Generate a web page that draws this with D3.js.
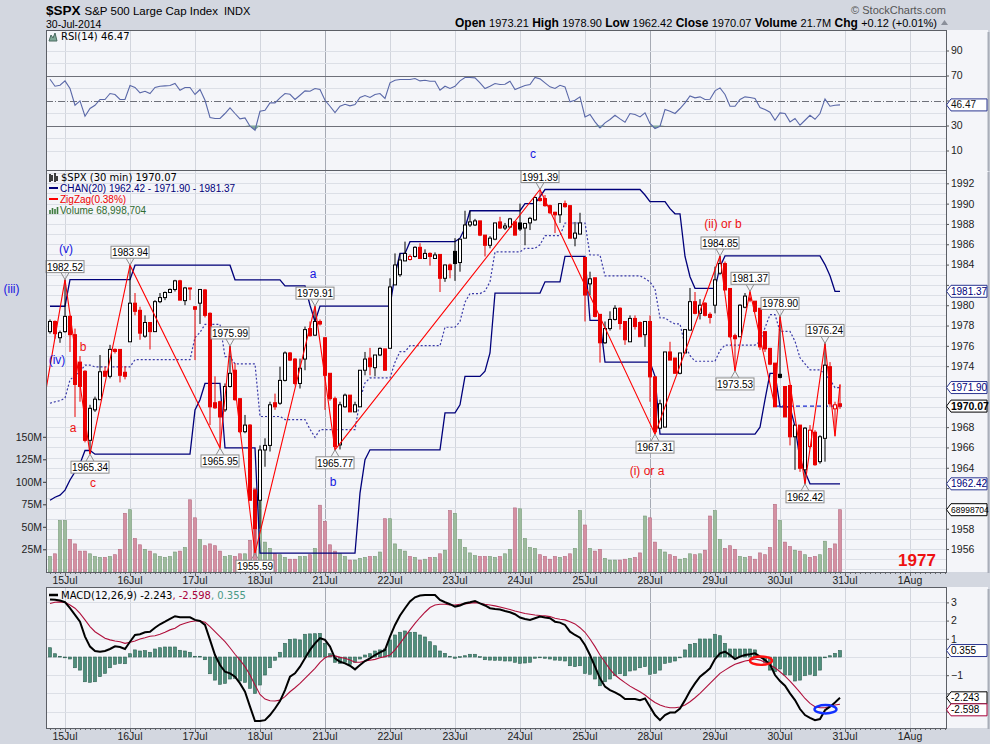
<!DOCTYPE html>
<html>
<head>
<meta charset="utf-8">
<title>$SPX 30 min</title>
<script src="https://cdn.jsdelivr.net/npm/d3@7"></script>
<style>
  body { margin: 0; background: #d3d7e0; }
  svg text { font-family: "Liberation Sans", Arial, sans-serif; }
  svg text.vd { font-family: "DejaVu Sans", Verdana, sans-serif; }
</style>
</head>
<body>
<svg id="chart" width="990" height="744"></svg>
<script>
// ---- data ----
var dayLabels = ["15Jul","16Jul","17Jul","18Jul","21Jul","22Jul","23Jul","24Jul","25Jul","28Jul","29Jul","30Jul","31Jul","1Aug"];
var dayBars = [3,16,29,42,55,68,81,94,107,120,133,146,159,172];
var mondays = ["21Jul","28Jul"];

var priceTicks = [1956,1958,1960,1962,1964,1966,1968,1970,1972,1974,1976,1978,1980,1982,1984,1986,1988,1990,1992];
var volTicks = [25,50,75,100,125,150];
var rsiTicks = [10,30,50,70,90];
var macdTicks = [-3,-2,-1,0,1,2,3];

var headerStats = [["Open","1973.21"],["High","1978.90"],["Low","1962.42"],["Close","1970.07"],["Volume","21.7M"],["Chg","+0.12 (+0.01%)"]];

// 30 min bars: open, high, low, close
var ohlc = [
[1977.4,1978.6,1977.2,1978.4],[1978.4,1978.5,1976.7,1977.2],[1976.8,1977.5,1976.3,1977.3],[1977.4,1982.52,1977.3,1978.9],
[1978.9,1979.0,1975.4,1977.1],[1977.1,1977.7,1969.0,1972.2],[1974.4,1975.0,1970.5,1972.0],[1973.5,1973.6,1966.5,1966.7],
[1966.7,1970.2,1965.34,1969.85],[1969.7,1971.0,1969.5,1970.75],[1970.7,1975.1,1970.7,1973.45],[1973.5,1973.95,1972.95,1973.0],
[1973.0,1976.1,1972.8,1975.65],[1975.65,1975.75,1975.25,1975.45],[1975.65,1975.65,1972.4,1973.1],[1973.4,1974.0,1972.7,1973.0],
[1976.4,1983.94,1976.4,1980.2],[1980.2,1981.2,1979.0,1979.4],[1979.5,1979.85,1976.6,1977.25],[1976.95,1979.0,1976.8,1978.3],
[1978.3,1978.3,1975.65,1977.4],[1977.4,1980.5,1977.4,1980.35],[1980.35,1981.2,1980.2,1980.75],[1980.75,1981.35,1980.5,1981.25],
[1981.25,1981.65,1981.2,1981.55],[1981.55,1982.5,1981.35,1982.4],[1982.4,1982.5,1980.5,1980.5],[1980.45,1981.8,1980.0,1981.7],
[1981.7,1981.7,1980.5,1981.6],[1979.85,1979.9,1974.6,1979.6],[1980.2,1981.6,1978.15,1981.55],[1981.5,1981.6,1978.8,1979.0],
[1979.2,1979.3,1968.2,1970.0],[1970.4,1973.0,1969.8,1969.9],[1970.5,1970.6,1965.95,1969.0],[1969.7,1972.3,1969.5,1972.0],
[1972.0,1975.99,1971.9,1973.3],[1973.6,1974.3,1970.6,1970.7],[1970.8,1970.8,1967.4,1967.55],[1967.55,1969.2,1967.4,1968.2],
[1968.2,1968.3,1960.8,1960.8],[1961.8,1961.9,1955.59,1958.0],[1960.8,1966.2,1958.0,1965.75],[1965.75,1966.9,1964.1,1966.2],
[1966.2,1970.5,1965.6,1970.2],[1970.4,1971.3,1969.7,1970.0],[1970.35,1973.95,1970.2,1972.6],[1972.6,1975.45,1972.5,1975.3],
[1975.3,1975.4,1974.5,1974.6],[1974.7,1974.8,1972.1,1972.3],[1972.3,1974.75,1971.8,1973.8],[1974.7,1977.9,1973.6,1977.6],
[1977.7,1978.4,1976.9,1977.0],[1977.05,1979.91,1977.0,1978.4],[1978.4,1978.6,1978.0,1978.15],[1976.8,1976.8,1969.7,1973.1],
[1973.3,1973.3,1970.6,1970.8],[1970.8,1971.0,1965.77,1966.1],[1966.25,1970.5,1965.8,1970.2],[1970.0,1971.3,1969.9,1971.15],
[1971.15,1971.15,1969.5,1969.5],[1969.5,1970.5,1969.5,1970.2],[1970.0,1973.6,1970.0,1973.6],[1973.6,1975.4,1973.1,1974.7],
[1974.8,1975.8,1973.1,1973.95],[1973.85,1975.1,1973.0,1975.1],[1975.1,1975.85,1975.0,1975.75],[1975.7,1975.7,1973.6,1973.6],
[1975.76,1982.65,1975.76,1981.8],[1982.0,1985.1,1982.0,1983.96],[1983.0,1985.1,1982.8,1984.45],[1984.36,1986.26,1984.36,1985.1],
[1984.5,1985.0,1984.4,1984.8],[1984.8,1985.8,1984.7,1985.7],[1985.7,1986.1,1984.6,1984.6],[1984.6,1985.5,1984.55,1985.1],
[1985.1,1985.2,1983.9,1984.8],[1984.6,1985.2,1984.6,1984.95],[1985.0,1985.0,1981.3,1982.65],[1982.65,1984.0,1982.3,1983.96],
[1983.96,1984.1,1982.65,1983.5],[1985.3,1986.6,1982.4,1984.1],[1984.2,1986.5,1983.3,1986.5],[1986.6,1989.3,1986.6,1987.9],
[1987.9,1989.3,1987.7,1988.2],[1987.9,1988.5,1987.8,1988.3],[1988.3,1988.3,1986.8,1986.9],[1986.9,1986.9,1984.8,1985.9],
[1985.9,1986.8,1985.6,1986.6],[1986.5,1988.1,1986.4,1988.1],[1988.2,1988.7,1987.5,1987.6],[1987.6,1988.1,1987.4,1987.8],
[1987.7,1988.6,1987.6,1988.5],[1988.2,1988.2,1986.9,1986.9],[1988.1,1990.0,1987.3,1987.5],[1987.6,1988.1,1985.9,1988.05],
[1988.1,1988.7,1987.4,1988.55],[1988.4,1990.7,1988.3,1990.6],[1990.5,1991.39,1990.2,1990.3],[1990.5,1990.85,1989.7,1989.8],
[1989.8,1989.9,1989.0,1989.1],[1989.15,1989.2,1987.1,1988.9],[1988.9,1990.0,1988.1,1990.0],[1990.0,1990.3,1989.6,1989.7],
[1989.8,1989.8,1986.6,1986.6],[1986.6,1988.2,1985.8,1987.1],[1987.0,1989.1,1987.0,1988.1],[1984.7,1984.7,1978.4,1981.0],
[1982.1,1983.3,1981.0,1982.6],[1982.7,1982.7,1978.8,1978.9],[1979.1,1979.1,1974.35,1976.3],[1976.3,1978.4,1976.2,1977.7],
[1977.7,1979.4,1977.5,1978.6],[1978.6,1980.0,1978.5,1979.7],[1979.7,1979.8,1977.6,1978.2],[1978.4,1978.4,1976.1,1976.6],
[1976.4,1979.0,1976.4,1978.7],[1978.7,1979.0,1977.6,1977.9],[1978.3,1978.4,1976.9,1976.9],[1977.1,1978.4,1975.9,1978.4],
[1978.4,1979.0,1970.5,1972.95],[1972.95,1972.95,1967.31,1967.55],[1967.9,1970.7,1967.8,1970.3],[1968.0,1975.4,1968.0,1975.4],
[1975.4,1976.4,1974.6,1974.6],[1974.8,1974.8,1973.3,1973.3],[1973.3,1975.3,1973.2,1975.3],[1975.3,1977.6,1975.3,1977.6],
[1977.55,1981.7,1977.5,1980.35],[1980.35,1981.3,1979.1,1979.2],[1979.2,1980.6,1978.6,1980.0],[1980.2,1980.3,1978.9,1979.0],
[1979.1,1979.3,1978.2,1978.8],[1980.0,1983.8,1979.2,1982.5],[1983.15,1984.85,1983.0,1984.1],[1984.1,1984.3,1981.5,1981.5],
[1981.65,1981.65,1976.8,1976.9],[1977.0,1977.2,1973.53,1976.7],[1976.9,1980.1,1976.9,1980.0],[1979.8,1981.2,1979.7,1980.9],
[1980.7,1981.37,1980.3,1980.5],[1980.4,1980.4,1979.3,1979.4],[1979.7,1979.7,1975.6,1975.9],[1977.4,1977.4,1975.4,1975.7],
[1975.75,1975.8,1974.1,1974.2],[1974.3,1974.3,1970.0,1970.0],[1973.2,1978.90,1972.8,1972.9],[1972.0,1972.0,1969.0,1969.0],
[1972.1,1972.1,1966.2,1967.05],[1967.05,1968.2,1963.8,1968.2],[1968.2,1968.2,1963.6,1963.95],[1963.8,1968.0,1962.42,1967.9],
[1966.1,1968.2,1965.9,1967.7],[1967.5,1967.7,1964.2,1964.3],[1964.6,1967.2,1964.4,1967.05],[1966.9,1976.24,1964.6,1974.1],
[1973.95,1974.4,1970.0,1970.3],[1969.8,1970.5,1967.1,1970.2],[1970.3,1972.2,1969.8,1970.07]
];

// volume, millions
var volume = [17,20,57,57,36,31,23,23,20,17,16,16,17,19,25,65,69,37,30,25,23,20,17,16,17,22,23,27,80,60,36,29,31,29,23,17,18,17,20,20,
35,93,80,33,26,20,19,16,14,14,17,17,19,26,74,56,30,23,20,17,13,13,15,16,17,17,22,59,59,31,25,23,17,16,13,14,16,16,20,24,
68,65,36,27,21,18,17,17,17,16,17,20,25,71,70,37,27,26,19,17,14,17,16,17,20,26,68,52,26,23,25,15,13,13,13,14,15,16,21,62,
60,33,25,22,19,17,14,15,20,19,20,24,62,68,36,26,29,25,17,16,17,14,21,19,27,75,57,33,28,24,23,19,16,17,19,34,26,31,69];

var rsi = [67.0,61.4,62.2,65.7,59.6,46.2,49.7,37.4,43.6,46.2,50.8,50.8,55.6,54.8,50.8,50.8,62.0,60.4,56.1,57.4,
55.6,60.4,61.4,61.7,62.0,63.6,58.2,60.4,60.4,54.8,58.8,50.2,36.4,35.6,35.6,39.6,44.1,39.6,35.3,36.1,
29.4,26.2,41.4,42.2,48.1,48.1,52.1,55.6,55.0,50.8,54.2,57.7,57.4,59.6,58.8,50.2,45.4,40.4,45.4,47.0,
45.7,46.8,52.4,54.0,52.4,54.8,55.6,51.6,64.1,66.2,66.8,66.8,66.8,67.6,65.7,66.2,65.4,65.4,58.2,61.4,
59.6,61.4,65.7,68.4,68.4,68.1,64.1,59.6,61.4,63.6,62.8,63.0,65.4,58.8,60.4,62.0,62.8,68.4,67.3,64.1,
60.9,59.6,62.2,60.9,48.9,50.2,52.9,36.9,38.8,32.9,28.1,32.1,34.8,38.2,35.3,32.6,39.6,38.8,36.9,40.1,
31.6,27.6,29.4,42.8,41.4,39.6,43.6,48.1,53.7,52.1,52.9,50.8,51.0,57.7,60.1,54.8,45.4,45.4,50.8,52.9,
52.4,51.6,44.4,42.8,40.6,34.2,40.1,39.6,32.9,35.6,30.2,34.2,38.2,35.0,39.6,51.3,45.4,46.2,46.47];

var macd = [3.16,3.14,3.10,3.01,2.68,2.31,1.94,1.12,0.57,0.33,0.29,0.33,0.44,0.59,0.55,0.44,0.84,1.21,1.25,1.36,
1.39,1.61,1.80,1.94,2.09,2.24,2.18,2.18,2.18,2.04,1.98,1.76,0.94,0.11,-0.44,-0.81,-0.90,-1.08,-1.45,-1.91,
-2.73,-3.52,-3.52,-3.47,-3.19,-2.83,-2.42,-1.82,-1.08,-0.90,-0.53,-0.07,0.39,0.75,1.03,0.94,0.57,-0.07,-0.26,-0.35,
-0.48,-0.68,-0.44,-0.22,-0.07,0.11,0.26,0.39,1.12,1.76,2.28,2.68,3.05,3.28,3.38,3.41,3.41,3.41,3.14,3.01,
2.90,2.77,2.83,2.95,3.01,3.08,2.95,2.83,2.68,2.64,2.61,2.53,2.46,2.35,2.17,2.09,2.04,2.13,2.22,2.17,
2.13,1.94,1.89,1.76,1.39,1.21,1.06,0.66,0.11,-0.53,-1.17,-1.63,-1.82,-1.94,-2.09,-2.31,-2.31,-2.31,-2.37,-2.28,
-2.73,-3.19,-3.47,-3.19,-3.05,-3.05,-2.83,-2.37,-1.87,-1.45,-1.08,-0.86,-0.62,-0.11,0.20,0.29,0.11,-0.11,0.02,0.11,
0.15,0.20,0.02,-0.17,-0.40,-0.99,-1.32,-1.58,-2.00,-2.37,-2.86,-3.19,-3.34,-3.47,-3.41,-2.92,-2.73,-2.50,-2.243];

var signal = [2.94,3.01,3.03,3.01,2.86,2.68,2.40,2.04,1.67,1.39,1.21,1.03,0.94,0.88,0.84,0.75,0.81,0.88,0.99,1.06,
1.14,1.17,1.25,1.36,1.49,1.58,1.76,1.85,1.94,1.98,1.98,1.91,1.67,1.39,1.12,0.84,0.51,0.15,-0.17,-0.53,
-0.99,-1.54,-2.06,-2.31,-2.40,-2.42,-2.37,-2.18,-1.91,-1.69,-1.45,-1.17,-0.90,-0.62,-0.29,-0.04,0.07,0.06,-0.02,-0.07,
-0.17,-0.29,-0.29,-0.22,-0.18,-0.13,-0.04,0.02,0.11,0.39,0.75,1.12,1.49,1.85,2.17,2.46,2.72,2.86,2.90,2.90,
2.86,2.86,2.90,2.92,2.95,2.99,2.95,2.90,2.86,2.81,2.75,2.68,2.61,2.53,2.46,2.39,2.35,2.31,2.28,2.26,
2.22,2.13,2.07,2.04,1.94,1.82,1.61,1.36,0.99,0.57,0.11,-0.29,-0.68,-0.99,-1.21,-1.41,-1.60,-1.76,-1.91,-2.09,
-2.31,-2.50,-2.64,-2.73,-2.79,-2.79,-2.75,-2.64,-2.46,-2.24,-2.00,-1.72,-1.45,-1.17,-0.90,-0.72,-0.55,-0.40,-0.31,-0.22,
-0.17,-0.11,-0.17,-0.29,-0.44,-0.59,-0.81,-1.05,-1.32,-1.63,-1.94,-2.28,-2.55,-2.73,-2.79,-2.79,-2.72,-2.64,-2.598];

var histogram = [0.51,0.18,0.04,0.0,-0.11,-0.59,-0.72,-1.36,-1.39,-1.36,-1.08,-0.90,-0.59,-0.40,-0.35,-0.37,0.18,0.39,0.33,0.35,
0.26,0.44,0.51,0.55,0.55,0.55,0.37,0.33,0.26,0.04,0.04,-0.15,-0.92,-1.27,-1.50,-1.45,-1.21,-1.17,-1.32,-1.39,
-1.72,-2.00,-1.54,-0.99,-0.59,-0.18,0.26,0.75,0.97,0.99,0.94,1.25,1.27,1.28,1.30,0.75,0.18,-0.29,-0.35,-0.29,
-0.40,-0.29,-0.11,0.11,0.18,0.33,0.39,0.44,0.94,1.21,1.36,1.43,1.36,1.36,1.21,1.10,0.84,0.62,0.33,0.20,
0.04,-0.07,0.02,0.07,0.15,0.15,0.02,-0.15,-0.17,-0.18,-0.18,-0.22,-0.22,-0.29,-0.35,-0.33,-0.29,-0.07,-0.04,-0.07,
-0.11,-0.17,-0.18,-0.22,-0.48,-0.53,-0.48,-0.90,-0.95,-1.21,-1.58,-1.36,-1.21,-1.03,-0.92,-1.03,-0.77,-0.72,-0.59,-0.53,
-0.95,-0.90,-0.72,-0.35,-0.29,-0.22,0.0,0.39,0.70,0.75,0.99,0.99,0.99,1.25,1.17,0.75,0.44,0.44,0.44,0.44,
0.44,0.39,0.02,-0.29,-0.72,-0.81,-0.66,-0.99,-0.99,-1.32,-1.27,-1.03,-0.95,-1.03,-0.72,0.0,0.07,0.20,0.355];

// price channel(20) steps: [first bar, level]
var chanUpper = [[0,1979.9],[4,1982.52],[17,1983.94],[37,1982.5],[47,1981.9],[52,1980.0],[53,1978.4],[54,1979.91],[69,1983.0],
[70,1985.1],[72,1986.26],[82,1986.6],[83,1987.6],[84,1989.3],[95,1990.0],[98,1990.7],[99,1991.39],[119,1990.85],[120,1990.2],
[124,1989.5],[125,1989.0],[127,1984.8],[128,1982.8],[129,1981.66],[134,1983.8],[135,1984.85],[155,1984.0],[156,1982.9],[157,1981.37]];
var chanLower = [[0,1960.8],[1,1961.1],[2,1961.3],[3,1961.8],[4,1962.8],[5,1963.6],[6,1964.4],[7,1965.7],[9,1965.34],[29,1969.7],
[30,1970.7],[31,1972.3],[35,1965.95],[42,1955.59],[62,1961.5],[63,1964.8],[64,1965.77],[79,1969.4],[82,1970.2],[83,1973.0],
[87,1973.5],[88,1975.3],[89,1981.2],[99,1982.3],[103,1984.8],[108,1978.5],[111,1974.4],[121,1973.0],[122,1967.31],[142,1968.0],
[143,1970.7],[144,1973.3],[146,1970.0],[149,1968.05],[150,1964.8],[151,1963.6],[152,1962.42]];

// zigzag(0.38%) pivots: [bar, price, label]
var zigzag = [[-3,1965.4,""],[3,1982.52,"1982.52"],[8,1965.34,"1965.34"],[16,1983.94,"1983.94"],[34,1965.95,"1965.95"],
[36,1975.99,"1975.99"],[41,1955.59,"1955.59"],[53,1979.91,"1979.91"],[57,1965.77,"1965.77"],[98,1991.39,"1991.39"],
[121,1967.31,"1967.31"],[134,1984.85,"1984.85"],[137,1973.53,"1973.53"],[140,1981.37,"1981.37"],[145,1970.0,""],
[146,1978.90,"1978.90"],[151,1962.42,"1962.42"],[155,1976.24,"1976.24"],[157,1967.1,""],[158,1972.2,""]];

// wave count notes: [bar, price, text, colour]
var waveNotes = [[-7.7,1981.6,"(iii)","#1515e0"],[3.2,1985.6,"(v)","#1515e0"],[1.4,1974.6,"(iv)","#1515e0"],
[6.6,1975.9,"b","#ee1111"],[4.6,1967.9,"a","#ee1111"],[8.6,1962.5,"c","#ee1111"],[52.6,1983.1,"a","#1515e0"],
[56.6,1962.6,"b","#1515e0"],[96.6,1994.9,"c","#1515e0"],[119.4,1963.7,"(i) or a","#ee1111"],[134.6,1988.0,"(ii) or b","#ee1111"]];
var lastClose = 1970.07, lastVolume = 68998704;
var closeLine = [145, 158];
// hand-drawn ellipses on the MACD panel: [bar, value, colour]
var macdMarks = [[142.2,-0.2,"#ff1010"],[155.1,-2.87,"#1030ff"]];

// ---- layout ----
var L = 46, R = 946, AX = 988;
var rsiTop = 30, rsiBot = 170, mainTop = 170, mainBot = 572, macdTop = 587, macdBot = 728;

var svg = d3.select("#chart");
var defs = svg.append("defs");

var x = d3.scaleLinear().domain([-0.8, 179.2]).range([L, R]);
var yP = d3.scaleLinear().domain([1953.74, 1993.31]).range([mainBot, mainTop]);
var yV = d3.scaleLinear().domain([0, 25]).range([571.8, 549.3]);
var yR = d3.scaleLinear().domain([0, 100]).range([163, 38]);
var yM = d3.scaleLinear().domain([-1, 1]).range([675.2, 638.8]);

svg.append("rect").attr("width", 990).attr("height", 744).attr("fill", "#d3d7e0");

function panel(top, bot, id) {
    svg.append("rect").attr("x", L).attr("y", top).attr("width", AX - L).attr("height", bot - top)
        .attr("fill", "#f4f5f9");
    defs.append("clipPath").attr("id", id).append("rect")
        .attr("x", L).attr("y", top).attr("width", R - L).attr("height", bot - top);
    var g = svg.append("g").attr("clip-path", "url(#" + id + ")");
    g.selectAll(null).data(dayBars).enter().append("line")
        .attr("x1", function (d) { return x(d) + 0.5; }).attr("x2", function (d) { return x(d) + 0.5; })
        .attr("y1", top).attr("y2", bot)
        .attr("stroke", function (d, i) { return mondays.indexOf(dayLabels[i]) >= 0 ? "#a6aab4" : "#d2d5dd"; });
    return g;
}

var bars = ohlc.map(function (d, i) {
    var prev = i > 0 ? ohlc[i - 1][3] : d[0];
    return { i: i, o: d[0], h: d[1], l: d[2], c: d[3], v: volume[i], down: d[3] < prev };
});

// ---- header ----
var t1 = svg.append("text").attr("x", 46).attr("y", 14.5).style("font-size", "13.5px").style("font-weight", "bold").text("$SPX");
var x2 = 46 + t1.node().getComputedTextLength() + 4;
var t2 = svg.append("text").attr("x", x2).attr("y", 14.5).style("font-size", "11.5px").text("S&P 500 Large Cap Index");
svg.append("text").attr("x", x2 + t2.node().getComputedTextLength() + 6).attr("y", 14.5).style("font-size", "11px").text("INDX");
svg.append("text").attr("x", 46).attr("y", 27.5).style("font-size", "10.5px").text("30-Jul-2014");
var hs = svg.append("text").attr("x", 937).attr("y", 27).attr("text-anchor", "end").style("font-size", "11px");
headerStats.forEach(function (d, i) {
    hs.append("tspan").style("font-weight", "bold").style("font-size", "12px").text((i ? "  " : "") + d[0] + " ");
    hs.append("tspan").text(d[1]);
});
svg.append("path").attr("d", "M941,25 L944.5,20 L948,25 Z").attr("fill", "#8a8f9a");
svg.append("text").attr("x", 946).attr("y", 14).attr("text-anchor", "end").style("font-size", "11px")
    .attr("fill", "#555").text("\u00A9 StockCharts.com");

// ---- RSI panel ----
var gR = panel(rsiTop, rsiBot, "clipR");
gR.selectAll(null).data([10, 20, 40, 60, 80, 90]).enter().append("line")
    .attr("x1", L).attr("x2", R).attr("y1", function (d) { return Math.round(yR(d)) + 0.5; })
    .attr("y2", function (d) { return Math.round(yR(d)) + 0.5; }).attr("stroke", "#dcdfe6");
gR.selectAll(null).data([30, 70]).enter().append("line")
    .attr("x1", L).attr("x2", R).attr("y1", function (d) { return Math.round(yR(d)) + 0.5; })
    .attr("y2", function (d) { return Math.round(yR(d)) + 0.5; }).attr("stroke", "#6e7079");
gR.append("line").attr("x1", L).attr("x2", R).attr("y1", Math.round(yR(50)) + 0.5).attr("y2", Math.round(yR(50)) + 0.5)
    .attr("stroke", "#6e7079").attr("stroke-dasharray", "7,2,1,2");
gR.append("path").datum(rsi)
    .attr("d", d3.area().x(function (d, i) { return x(i); }).y0(yR(30)).y1(function (d) { return yR(Math.min(d, 30)); }))
    .attr("fill", "#7fa898");
gR.append("path").datum(rsi)
    .attr("d", d3.line().x(function (d, i) { return x(i); }).y(function (d) { return yR(d); }))
    .attr("fill", "none").attr("stroke", "#5a68a8").attr("stroke-width", 1.1);
svg.append("path").attr("d", "M49,41 L51,35 L53,38 L55,33 L57,41 Z").attr("fill", "#7fa898").attr("stroke", "#4a6a60");
svg.append("text").attr("class", "vd").attr("x", 61).attr("y", 40).style("font-size", "10px").text("RSI(14) 46.47");

// ---- main panel ----
var gP = panel(mainTop, mainBot, "clipP");
gP.selectAll(null).data(yP.ticks(40)).enter().append("line")
    .attr("x1", L).attr("x2", R).attr("y1", function (d) { return Math.round(yP(d)) + 0.5; })
    .attr("y2", function (d) { return Math.round(yP(d)) + 0.5; }).attr("stroke", "#dcdfe6");

// volume
gP.selectAll(".vol").data(bars).enter().append("rect").attr("class", "vol")
    .attr("x", function (d) { return x(d.i) - 1.5; }).attr("width", 3)
    .attr("y", function (d) { return yV(d.v); }).attr("height", function (d) { return yV(0) - yV(d.v); })
    .attr("fill", function (d) { return d.down ? "#d490a2" : "#9dbb9d"; })
    .attr("stroke", function (d) { return d.down ? "#b56a80" : "#779a77"; }).attr("stroke-width", 0.6);

// price channel
function stepLevel(steps, i) {
    var v = steps[0][1];
    steps.forEach(function (s) { if (s[0] <= i) v = s[1]; });
    return v;
}
var chan = bars.map(function (d) {
    var u = stepLevel(chanUpper, d.i), lo = stepLevel(chanLower, d.i);
    return { i: d.i, u: u, l: lo, m: (u + lo) / 2 };
});
var chanLine = function (key) {
    return d3.line().x(function (d) { return x(d.i); }).y(function (d) { return yP(d[key]); });
};
gP.append("path").datum(chan).attr("d", chanLine("u")).attr("fill", "none").attr("stroke", "#00007a").attr("stroke-width", 1.3);
gP.append("path").datum(chan).attr("d", chanLine("l")).attr("fill", "none").attr("stroke", "#00007a").attr("stroke-width", 1.3);
gP.append("path").datum(chan).attr("d", chanLine("m")).attr("fill", "none").attr("stroke", "#3a3aa8")
    .attr("stroke-width", 1.2).attr("stroke-dasharray", "2,2");
gP.append("line").attr("x1", x(closeLine[0])).attr("x2", x(closeLine[1]) + 2)
    .attr("y1", yP(lastClose)).attr("y2", yP(lastClose))
    .attr("stroke", "#1a2ad0").attr("stroke-width", 1.2).attr("stroke-dasharray", "4,3");

// candles
var candle = gP.selectAll(".candle").data(bars).enter().append("g").attr("class", "candle");
candle.append("line")
    .attr("x1", function (d) { return x(d.i); }).attr("x2", function (d) { return x(d.i); })
    .attr("y1", function (d) { return yP(d.h); }).attr("y2", function (d) { return yP(d.l); })
    .attr("stroke", function (d) { return d.down ? "#e80000" : "#000"; });
candle.append("rect")
    .attr("x", function (d) { return x(d.i) - 1.5; }).attr("width", 3)
    .attr("y", function (d) { return yP(Math.max(d.o, d.c)); })
    .attr("height", function (d) { return Math.max(0.8, Math.abs(yP(d.o) - yP(d.c))); })
    .attr("fill", function (d) { return d.c > d.o ? "#fff" : (d.down ? "#e80000" : "#000"); })
    .attr("stroke", function (d) { return d.down ? "#e80000" : "#000"; });

// zigzag
gP.append("path").datum(zigzag)
    .attr("d", d3.line().x(function (d) { return x(d[0]); }).y(function (d) { return yP(d[1]); }))
    .attr("fill", "none").attr("stroke", "#ff0000").attr("stroke-width", 1.1);

var lab = svg.append("g");
zigzag.forEach(function (d, k) {
    if (!d[2]) return;
    var high = d[1] > zigzag[k - 1][1];
    var cx = x(d[0]), py = yP(d[1]);
    var s = high ? -1 : 1;
    lab.append("path")
        .attr("d", "M" + (cx - 4) + "," + (py + s * 7) + " L" + cx + "," + py + " L" + (cx + 4) + "," + (py + s * 7))
        .attr("fill", "none").attr("stroke", "#8c8c8c");
    var top = high ? py - 19 : py + 7;
    lab.append("rect").attr("x", cx - 19).attr("y", top).attr("width", 38).attr("height", 12)
        .attr("fill", "#fff").attr("stroke", "#8c8c8c");
    lab.append("text").attr("x", cx).attr("y", top + 10).attr("text-anchor", "middle")
        .style("font-size", "10px").text(d[2]);
});

// legend
var lg = svg.append("g");
lg.append("path").attr("d", "M50,174v8M52,175v6M55,173v9M57,176v5").attr("stroke", "#000").attr("stroke-width", 1.5);
lg.append("text").attr("class", "vd").attr("x", 61).attr("y", 181).style("font-size", "10px").text("$SPX (30 min) 1970.07");
lg.append("line").attr("x1", 49).attr("x2", 58).attr("y1", 188).attr("y2", 188).attr("stroke", "#00007a").attr("stroke-width", 2);
lg.append("text").attr("x", 60).attr("y", 192).style("font-size", "10px").attr("fill", "#00007a")
    .text("CHAN(20) 1962.42 - 1971.90 - 1981.37");
lg.append("line").attr("x1", 49).attr("x2", 58).attr("y1", 199).attr("y2", 199).attr("stroke", "#ff0000").attr("stroke-width", 2);
lg.append("text").attr("x", 60).attr("y", 203).style("font-size", "10px").attr("fill", "#ee0000").text("ZigZag(0.38%)");
lg.append("path").attr("d", "M50,214v-4M52.5,214v-6M55,214v-5M57.5,214v-7").attr("stroke", "#3d7a3d").attr("stroke-width", 1.6);
lg.append("text").attr("x", 60).attr("y", 214).style("font-size", "10px").attr("fill", "#2f6a2f")
    .text("Volume " + d3.format(",")(lastVolume));

// wave count notes
svg.selectAll(".note").data(waveNotes).enter().append("text").attr("class", "note")
    .attr("x", function (d) { return x(d[0]); }).attr("y", function (d) { return yP(d[1]); })
    .attr("dy", "0.35em").attr("text-anchor", "middle").style("font-size", "12px")
    .attr("fill", function (d) { return d[3]; }).text(function (d) { return d[2]; });
svg.append("text").attr("x", x(173.4)).attr("y", yP(1954.9)).attr("dy", "0.35em").attr("text-anchor", "middle")
    .style("font-size", "17px").style("font-weight", "bold").attr("fill", "#ee1111").text("1977");

// ---- MACD panel ----
var gM = panel(macdTop, macdBot, "clipM");
gM.selectAll(null).data(macdTicks).enter().append("line")
    .attr("x1", L).attr("x2", R).attr("y1", function (d) { return Math.round(yM(d)) + 0.5; })
    .attr("y2", function (d) { return Math.round(yM(d)) + 0.5; }).attr("stroke", "#dcdfe6");
gM.selectAll(".hist").data(histogram).enter().append("rect").attr("class", "hist")
    .attr("x", function (d, i) { return x(i) - 1.5; }).attr("width", 3)
    .attr("y", function (d) { return Math.min(yM(d), yM(0)); })
    .attr("height", function (d) { return Math.max(0.8, Math.abs(yM(d) - yM(0))); })
    .attr("fill", "#4f8f7c").attr("stroke", "#2e5e50").attr("stroke-width", 0.6);
gM.append("path").datum(signal)
    .attr("d", d3.line().x(function (d, i) { return x(i); }).y(function (d) { return yM(d); }))
    .attr("fill", "none").attr("stroke", "#b0103c").attr("stroke-width", 1.1);
gM.append("path").datum(macd)
    .attr("d", d3.line().x(function (d, i) { return x(i); }).y(function (d) { return yM(d); }))
    .attr("fill", "none").attr("stroke", "#000").attr("stroke-width", 2);
svg.selectAll(".mark").data(macdMarks).enter().append("ellipse").attr("class", "mark")
    .attr("cx", function (d) { return x(d[0]); }).attr("cy", function (d) { return yM(d[1]); })
    .attr("rx", 11).attr("ry", 4.2).attr("fill", "none")
    .attr("stroke", function (d) { return d[2]; }).attr("stroke-width", 2.4);
svg.append("line").attr("x1", 49).attr("x2", 58).attr("y1", 595).attr("y2", 595).attr("stroke", "#000").attr("stroke-width", 2.5);
var ml = svg.append("text").attr("class", "vd").attr("x", 61).attr("y", 599).style("font-size", "10px");
ml.append("tspan").text("MACD(12,26,9) " + macd[macd.length - 1].toFixed(3));
ml.append("tspan").attr("fill", "#a8003a").text(", " + signal[signal.length - 1].toFixed(3));
ml.append("tspan").attr("fill", "#4a9a86").text(", " + histogram[histogram.length - 1].toFixed(3));

// ---- value tags (positions first, so axis labels underneath can be left out) ----
var lastChan = chan[chan.length - 1];
function fix2(v) { return (Math.round(v * 100 + 1e-6) / 100).toFixed(2); }
var tags = [
    [yR(rsi[rsi.length - 1]), fix2(rsi[rsi.length - 1]), "#2a3590", "#111", 10],
    [yP(lastChan.u), fix2(lastChan.u), "#2a3590", "#00007a", 10],
    [yP(lastChan.m), fix2(lastChan.m), "#2a3590", "#00007a", 10],
    [yP(lastChan.l), fix2(lastChan.l), "#2a3590", "#00007a", 10],
    [yP(lastClose), fix2(lastClose), "#000", "#000", 10.5, true],
    [yV(lastVolume / 1e6), String(lastVolume), "#000", "#000", 8.5],
    [yM(macd[macd.length - 1]), macd[macd.length - 1].toFixed(3), "#000", "#000", 10],
    [yM(signal[signal.length - 1]), signal[signal.length - 1].toFixed(3), "#a8003a", "#000", 10],
    [yM(histogram[histogram.length - 1]), histogram[histogram.length - 1].toFixed(3), "#2a3590", "#000", 10]
];
// keep the two MACD tags from sitting on top of each other
if (tags[7][0] - tags[6][0] < 12) tags[7][0] = tags[6][0] + 12;
function hidden(y) {
    return tags.some(function (t) { return Math.abs(t[0] - y) < 8; });
}

// ---- axes ----
function rightAxis(scale, ticks) {
    var g = svg.append("g").attr("transform", "translate(" + R + ",0)")
        .call(d3.axisRight(scale).tickValues(ticks).tickSize(3).tickPadding(2).tickFormat(d3.format("d")));
    g.select(".domain").remove();
    g.selectAll("text").style("font-size", "10.5px").attr("fill", "#222")
        .style("display", function (d) { return hidden(scale(d)) ? "none" : null; });
    g.selectAll("line").attr("stroke", "#555");
}
rightAxis(yR, rsiTicks);
rightAxis(yP, priceTicks);
rightAxis(yM, macdTicks);

var va = svg.append("g").attr("transform", "translate(" + L + ",0)")
    .call(d3.axisLeft(yV).tickValues(volTicks).tickSize(3).tickPadding(1).tickFormat(function (d) { return d + "M"; }));
va.select(".domain").remove();
va.selectAll("text").style("font-size", "10.5px").attr("fill", "#222");
va.selectAll("line").attr("stroke", "#333");

function dateAxis(y) {
    var g = svg.append("g");
    g.selectAll(null).data(d3.range(0, 180)).enter().append("line")
        .attr("x1", function (d) { return x(d) + 0.5; }).attr("x2", function (d) { return x(d) + 0.5; })
        .attr("y1", y).attr("y2", function (d) { return dayBars.indexOf(d) >= 0 ? y + 4 : y + 2; })
        .attr("stroke", "#666");
    g.selectAll(null).data(dayLabels).enter().append("text")
        .attr("x", function (d, i) { return x(dayBars[i]); }).attr("y", y + 12)
        .attr("text-anchor", "middle").style("font-size", "10.5px").attr("fill", "#222").text(function (d) { return d; });
}
dateAxis(mainBot);
dateAxis(macdBot);

// panel borders
[[rsiTop, rsiBot], [mainTop, mainBot], [macdTop, macdBot]].forEach(function (p) {
    svg.append("rect").attr("x", L + 0.5).attr("y", p[0] + 0.5).attr("width", R - L).attr("height", p[1] - p[0])
        .attr("fill", "none").attr("stroke", "#5c5f66");
    svg.append("line").attr("x1", AX + 0.5).attr("x2", AX + 0.5).attr("y1", p[0] + 2).attr("y2", p[1] + 1)
        .attr("stroke", "#a9aeb9").attr("stroke-width", 2);
});

// value tags on the right axis
tags.forEach(function (t) {
    var y = t[0];
    var g = svg.append("g");
    g.append("path").attr("d", "M" + (R + 0.5) + "," + y + " L" + (R + 5) + "," + (y - 6) + " L" + (AX - 1) + "," + (y - 6) +
        " L" + (AX - 1) + "," + (y + 6) + " L" + (R + 5) + "," + (y + 6) + " Z")
        .attr("fill", "#fff").attr("stroke", t[2]);
    g.append("text").attr("x", R + 5).attr("y", y + 3.5)
        .style("font-size", t[4] + "px").style("font-weight", t[5] ? "bold" : "normal")
        .attr("fill", t[3]).text(t[1]);
});
</script>
</body>
</html>
